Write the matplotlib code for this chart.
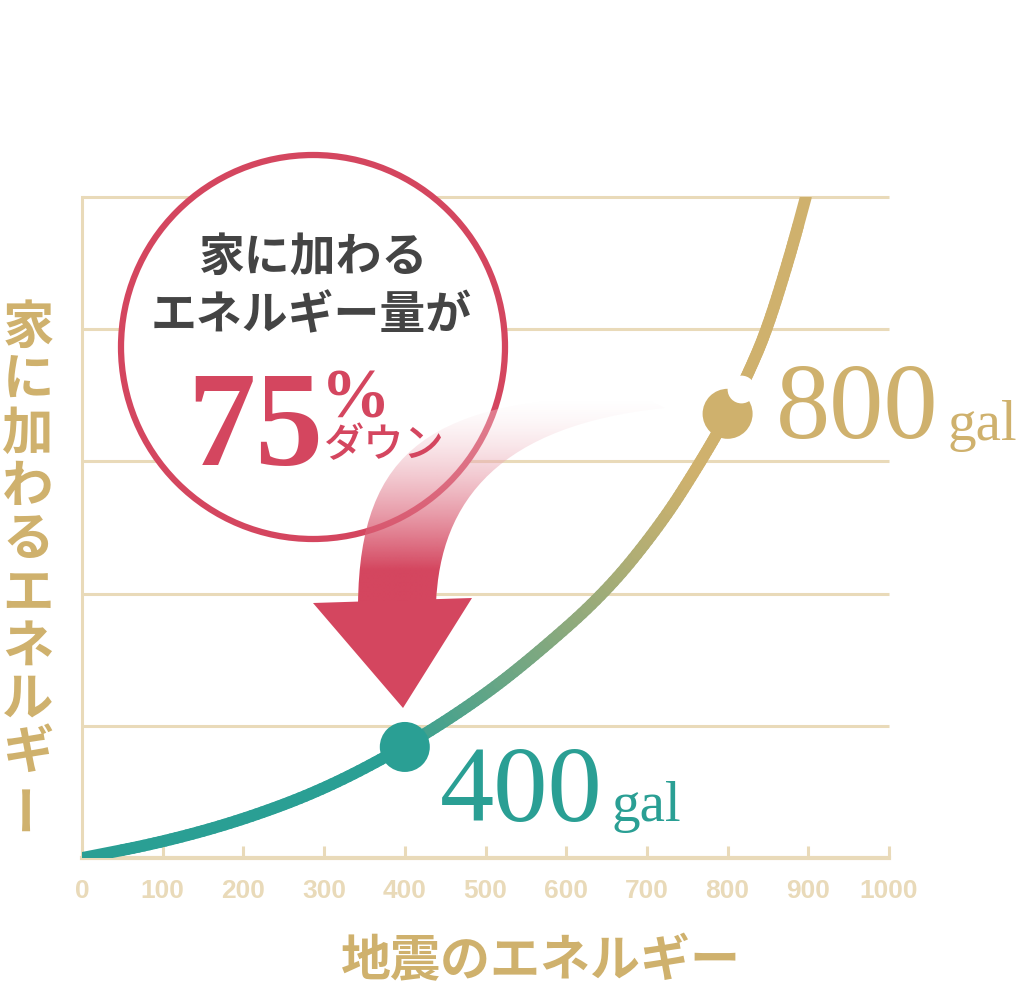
import numpy as np
import matplotlib.pyplot as plt
from matplotlib.collections import LineCollection
from matplotlib.colors import to_rgb
from matplotlib.patches import Circle, PathPatch, Polygon
from matplotlib.path import Path
from matplotlib.transforms import offset_copy

# values (grid step = 1 energy unit)
quake_gal = [0, 100, 200, 300, 400, 487, 555, 648, 718, 766, 801, 826, 849, 877, 897]
house_energy = [0.0, 0.12, 0.29, 0.52, 0.84, 1.18, 1.50, 2.00, 2.53, 2.99, 3.36, 3.67, 4.00, 4.55, 5.00]
marked_gal = [400, 800]
marked_energy = [0.84, 3.36]
x_ticks = list(range(0, 1001, 100))
grid_levels = [1, 2, 3, 4, 5]

TEAL = '#2a9f94'
GOLD = '#cfb16d'
RED = '#d4465f'
LINE = '#e9dab9'
DARK = '#444444'
JP = ['Noto Sans CJK JP', 'DejaVu Sans']
SERIF = ['Liberation Serif', 'DejaVu Serif']

fig = plt.figure(figsize=(10.25, 9.88), dpi=100)
ax = fig.add_axes([82 / 1025, 130 / 988, 807 / 1025, 661 / 988])
ax.set_xlim(0, 1000)
ax.set_ylim(0, 5)
for s in ['top', 'right']:
    ax.spines[s].set_visible(False)
ax.spines['left'].set_color(LINE)
ax.spines['left'].set_linewidth(2.2)
ax.spines['bottom'].set_color(LINE)
ax.spines['bottom'].set_linewidth(3)
ax.hlines(grid_levels, 0, 1000, color=LINE, lw=2.2, zorder=1, clip_on=False)
ax.set_yticks([])
ax.set_xticks(x_ticks)
ax.tick_params(axis='x', direction='in', length=9, width=2.2, color=LINE,
               labelcolor=LINE, labelsize=19, pad=15)
for lab in ax.get_xticklabels():
    lab.set_fontfamily(['Liberation Sans', 'DejaVu Sans'])
    lab.set_fontweight('bold')

# smooth the read points with midpoint quadratic curves, then colour teal -> gold
P = np.column_stack([quake_gal, house_energy]).astype(float)
M = (P[:-1] + P[1:]) / 2
t = np.linspace(0, 1, 16)[:, None]
pieces = [np.vstack([P[0], M[0]])]
for i in range(1, len(P) - 1):
    pieces.append((1 - t) ** 2 * M[i - 1] + 2 * (1 - t) * t * P[i] + t ** 2 * M[i])
pieces.append(np.vstack([M[-1], P[-1]]))
pts = np.vstack(pieces)
segs = np.stack([pts[:-1], pts[1:]], axis=1)
mid = (pts[:-1, 0] + pts[1:, 0]) / 2
f = np.clip((mid - 380) / (760 - 380), 0, 1)[:, None]
cols = np.array(to_rgb(TEAL)) * (1 - f) + np.array(to_rgb(GOLD)) * f
lc = LineCollection(segs, colors=cols, linewidths=8.5, capstyle='round', joinstyle='round', zorder=3)
ax.add_collection(lc)

ax.scatter(marked_gal, marked_energy, s=36 ** 2, c=[TEAL, GOLD], zorder=4, clip_on=False, linewidths=0)
notch = offset_copy(ax.transData, fig=fig, x=10, y=18, units='points')
ax.scatter([marked_gal[1]], [marked_energy[1]], s=20 ** 2, c='white', zorder=5,
           transform=notch, clip_on=False, linewidths=0)

# overlay in pixel coordinates for the callouts
ov = fig.add_axes([0, 0, 1, 1], zorder=3)
ov.axis('off')

ov.add_patch(Circle((313, 347), 192, fc='white', ec=RED, lw=4.5, zorder=1))
ov.text(314, 258, '家に加わる', ha='center', va='center', fontsize=33, weight='bold', color=DARK, family=JP)
ov.text(311, 316, 'エネルギー量が', ha='center', va='center', fontsize=33, weight='bold', color=DARK, family=JP)
ov.text(255, 465, '75', ha='center', va='baseline', fontsize=98, weight='bold', color=RED, family=SERIF)
ov.text(356, 417, '%', ha='center', va='baseline', fontsize=50, weight='bold', color=RED, family=SERIF)
ov.text(384, 446, 'ダウン', ha='center', va='center', fontsize=29, weight='medium', color=RED, family=JP)

# curved arrow
verts = [(358, 604), (360, 450), (430, 397), (640, 395), (665, 408),
         (500, 425), (440, 500), (436, 604), (358, 604)]
codes = [Path.MOVETO, Path.CURVE4, Path.CURVE4, Path.CURVE4, Path.LINETO,
         Path.CURVE4, Path.CURVE4, Path.CURVE4, Path.CLOSEPOLY]
shaft = PathPatch(Path(verts, codes), fc='white', ec='none', alpha=0.3, zorder=2)
ov.add_patch(shaft)
yy = np.linspace(385, 610, 200)
img = np.zeros((200, 1, 4))
img[..., :3] = to_rgb(RED)
img[:, 0, 3] = np.clip((yy - 395) / 175, 0, 1) ** 1.6
im = ov.imshow(img, extent=(340, 680, 610, 385), origin='upper', aspect='auto',
               zorder=3, interpolation='bilinear')
im.set_clip_path(shaft)
ov.add_patch(Polygon([(313, 603), (472, 598), (403, 708)], closed=True, fc=RED, ec='none', zorder=4))

# value labels
ov.text(440, 821, '400', fontsize=78, color=TEAL, family=SERIF, va='baseline')
ov.text(612, 821, 'gal', fontsize=41, color=TEAL, family=SERIF, va='baseline')
ov.text(776, 438, '800', fontsize=78, color=GOLD, family=SERIF, va='baseline')
ov.text(948, 440, 'gal', fontsize=41, color=GOLD, family=SERIF, va='baseline')

# axis titles
for i, ch in enumerate('家に加わるエネルギー'):
    ov.text(28, 327 + i * 53.2, ch, rotation=90 if ch == 'ー' else 0, ha='center', va='center',
            fontsize=37, weight='bold', color=GOLD, family=JP)
ov.text(541, 962, '地震のエネルギー', ha='center', va='center', fontsize=36, weight='bold',
        color=GOLD, family=JP)

ov.set_xlim(0, 1025)
ov.set_ylim(988, 0)

fig.savefig('out.png', dpi=100)
